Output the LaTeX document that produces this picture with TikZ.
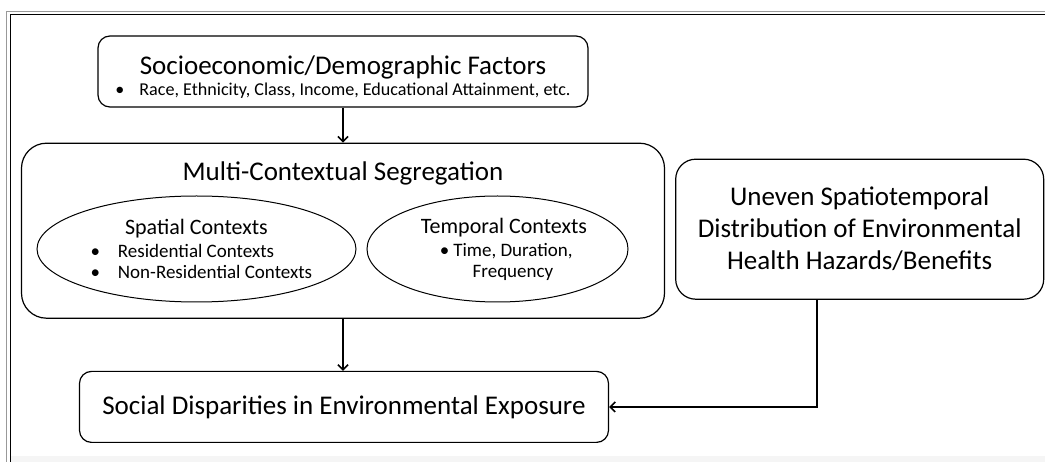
\documentclass[tikz,border=0pt]{standalone}
\usepackage{fontspec}
\setmainfont{Carlito}
\usepackage{tikz}
\usetikzlibrary{shapes.geometric, arrows.meta, positioning, calc}

\begin{document}
\begin{tikzpicture}[
    x=1pt, y=-1pt,
    box/.style={rectangle, draw, line width=1.2pt, rounded corners=12pt, align=center, inner sep=0pt},
    oval/.style={ellipse, draw, line width=1pt, inner sep=0pt, minimum height=106pt, align=center, font=\fontsize{19}{21}\selectfont},
    big/.style={font=\fontsize{27}{32}\selectfont},
    arrow/.style={-{Straight Barb[length=5pt, width=10pt, line width=1.6pt]}, line width=2pt},
]

\useasboundingbox (0,0) rectangle (1045,462);

% Frame
\fill[black!4] (10,456) rectangle (1045,462);
\draw[black!40, line width=1pt] (6.5,462) -- (6.5,11.5) -- (1045,11.5);
\draw[line width=1.4pt] (10.5,462) -- (10.5,14.5) -- (1045,14.5);

% Nodes
\node[box, minimum width=490pt, minimum height=71pt, font=\fontsize{18.1}{20}\selectfont] (socio) at (343,71.5)
    {\rule{0pt}{29pt}{\fontsize{27}{30}\selectfont Socioeconomic/Demographic Factors}\\[1pt]
     \textbullet\hspace{15pt}Race, Ethnicity, Class, Income, Educational Attainment, etc.};
\node[box, rounded corners=25pt, minimum width=643pt, minimum height=175pt, below=35pt of socio] (multi) {};
\node[big] (multititle) at ([yshift=-31pt]multi.north) {Multi-Contextual Segregation};

\node[oval, minimum width=319pt] (spatial) at (196.5,249)
    {{\fontsize{22}{24}\selectfont Spatial Contexts}\\[2pt]
     \makebox[212pt][l]{\textbullet\hspace{18pt}Residential Contexts}\\
     \makebox[212pt][l]{\textbullet\hspace{18pt}Non-Residential Contexts}};
\node[oval, minimum width=261pt, right=10pt of spatial] (temporal)
    {\hspace*{13pt}{\fontsize{22}{24}\selectfont Temporal Contexts}\\[2pt]
     \hspace*{31pt}\llap{\textbullet\hspace{4pt}}Time, Duration,\\
     \hspace*{31pt}Frequency};

\node[box, big, rounded corners=20pt, minimum width=368pt, minimum height=140pt, right=10pt of multi, yshift=1.5pt] (uneven)
    {Uneven Spatiotemporal\\Distribution of Environmental\\Health Hazards/Benefits};
\node[box, big, minimum width=529pt, minimum height=71pt, below=52pt of multi, xshift=1pt] (social)
    {Social Disparities in Environmental Exposure};

% Arrows
\draw[arrow] (socio.south) -- (multi.north);
\draw[arrow] (multi.south) -- (multi.south |- social.north);
\draw[arrow] ([xshift=-43pt]uneven.south) |- (social.east);

\end{tikzpicture}
\end{document}
